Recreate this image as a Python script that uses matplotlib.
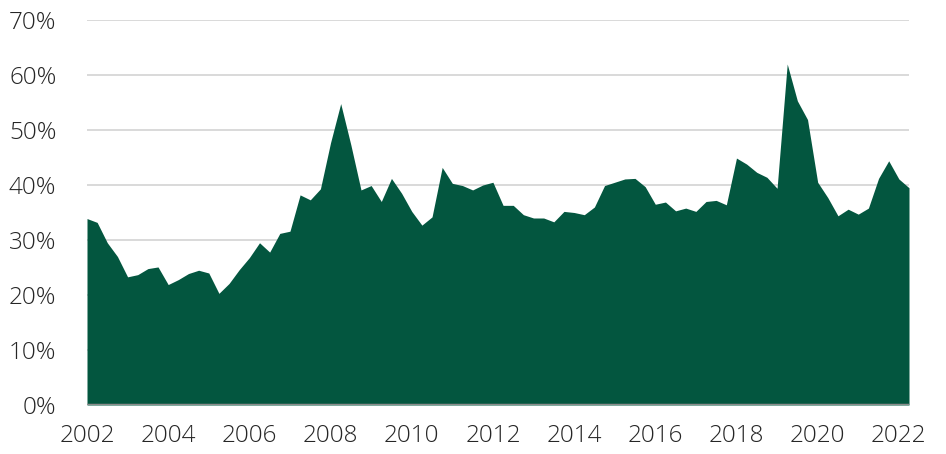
import numpy as np
import matplotlib.pyplot as plt

# quarterly values, 2002 Q1 .. 2022 Q2 (percent)
values = [
    33.9, 33.2, 29.5, 27.0, 23.3, 23.7, 24.8, 25.1,
    21.9, 22.8, 23.9, 24.5, 24.0, 20.3, 22.1, 24.6,
    26.8, 29.5, 27.8, 31.2, 31.6, 38.2, 37.3, 39.3,
    47.7, 54.8, 47.3, 39.1, 39.9, 37.0, 41.2, 38.5,
    35.2, 32.7, 34.2, 43.2, 40.3, 39.9, 39.1, 40.0,
    40.5, 36.3, 36.3, 34.6, 34.0, 34.0, 33.3, 35.2,
    35.0, 34.6, 36.0, 39.9, 40.5, 41.1, 41.2, 39.7,
    36.5, 36.9, 35.3, 35.8, 35.2, 37.0, 37.2, 36.4,
    44.9, 43.8, 42.3, 41.4, 39.4, 62.0, 55.3, 51.9,
    40.5, 37.7, 34.4, 35.6, 34.7, 35.8, 41.2, 44.4,
    41.1, 39.5,
]
start_year = 2002
year_ticks = list(range(2002, 2023, 2))
pct_ticks = list(range(0, 71, 10))

x = start_year + np.arange(len(values)) / 4.0

plt.rcParams['font.family'] = ['Open Sans', 'DejaVu Sans']

fig = plt.figure(figsize=(9.46, 4.54), dpi=100)
ax = fig.add_axes([87 / 946, 1 - 405 / 454, (909 - 87) / 946, (405 - 20) / 454])

ax.fill_between(x, values, 0, color='#03563f', linewidth=0, zorder=2)

ax.set_xlim(x[0], x[-1])
ax.set_ylim(0, 70)
ax.set_yticks(pct_ticks)
ax.set_yticklabels([f"{v}%" for v in pct_ticks])
ax.set_xticks(year_ticks)
ax.set_xticklabels([str(y) for y in year_ticks])

for v in pct_ticks[1:]:
    ax.axhline(v, color='#d9d9d9', linewidth=1.4, zorder=1)
ax.axhline(0, color='#8c8c8c', linewidth=2.5, zorder=3)

for s in ax.spines.values():
    s.set_visible(False)
ax.tick_params(length=0, labelsize=17.5, colors='#262626')
ax.tick_params(axis='y', pad=22)
ax.tick_params(axis='x', pad=14)
for lbl in ax.get_xticklabels() + ax.get_yticklabels():
    lbl.set_fontweight('light')

fig.savefig('out.png', dpi=100)
